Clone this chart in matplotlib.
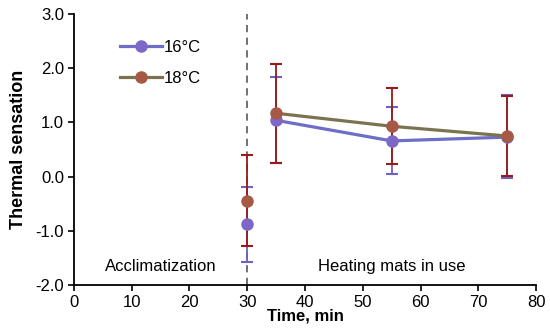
import matplotlib
matplotlib.use("Agg")
import matplotlib.pyplot as plt

plt.rcParams['font.family'] = ['Liberation Sans', 'DejaVu Sans']

time = [30, 35, 55, 75]
s16 = [-0.88, 1.04, 0.66, 0.73]
s16_lo = [-1.57, 0.25, 0.05, -0.03]
s16_hi = [-0.19, 1.84, 1.28, 1.50]
s18 = [-0.44, 1.17, 0.93, 0.75]
s18_lo = [-1.27, 0.26, 0.23, 0.02]
s18_hi = [0.40, 2.07, 1.63, 1.48]

FS = 12

fig = plt.figure(figsize=(5.5, 3.35), dpi=100)
ax = fig.add_axes([0.134, 0.149, 0.841, 0.809])

def err(vals, lo, hi):
    return [[v - l for v, l in zip(vals, lo)], [h - v for v, h in zip(vals, hi)]]

ax.axvline(30, color='#666666', linestyle=(0, (4, 3)), linewidth=1.3, zorder=1)

ax.errorbar(time, s16, yerr=err(s16, s16_lo, s16_hi), fmt='none', ecolor='#7060C0',
            elinewidth=1.3, capsize=4, capthick=1.5, zorder=2)
ax.errorbar(time, s18, yerr=err(s18, s18_lo, s18_hi), fmt='none', ecolor='#9A1A1A',
            elinewidth=1.3, capsize=4, capthick=1.5, zorder=2)

# lines connect only the heating-period points
ax.plot(time[1:], s16[1:], color='#6E6EC8', linewidth=2.3, zorder=3)
ax.plot(time[1:], s18[1:], color='#7B7350', linewidth=2.3, zorder=4)
ax.plot(time, s16, linestyle='none', marker='o', markersize=8,
        markerfacecolor='#7D68C8', markeredgecolor='#7D68C8', zorder=5)
ax.plot(time, s18, linestyle='none', marker='o', markersize=8,
        markerfacecolor='#A65A45', markeredgecolor='#A65A45', zorder=6)

# legend handles
ax.plot([], [], color='#6E6EC8', linewidth=2.3, marker='o', markersize=8,
        markerfacecolor='#7D68C8', markeredgecolor='#7D68C8', label='16°C')
ax.plot([], [], color='#7B7350', linewidth=2.3, marker='o', markersize=8,
        markerfacecolor='#A65A45', markeredgecolor='#A65A45', label='18°C')

ax.set_xlim(0, 80)
ax.set_ylim(-2.0, 3.0)
ax.set_xticks(range(0, 81, 10))
ax.set_yticks([-2, -1, 0, 1, 2, 3])
ax.set_yticklabels(['-2.0', '-1.0', '0.0', '1.0', '2.0', '3.0'])
ax.tick_params(labelsize=FS, direction='out', length=4, width=1.2, colors='black', pad=3)
for s in ['top', 'right']:
    ax.spines[s].set_visible(False)
for s in ['left', 'bottom']:
    ax.spines[s].set_linewidth(1.3)

ax.set_xlabel('Time, min', fontsize=FS, fontweight='bold', labelpad=-1)
ax.set_ylabel('Thermal sensation', fontsize=13, fontweight='bold', labelpad=6)

ax.text(15, -1.66, 'Acclimatization', fontsize=FS, ha='center', va='center')
ax.text(55, -1.66, 'Heating mats in use', fontsize=FS, ha='center', va='center')

leg = ax.legend(loc='upper left', bbox_to_anchor=(0.100, 0.905), frameon=False,
                fontsize=FS, handlelength=2.5, handletextpad=0.15, labelspacing=0.95,
                borderpad=0, borderaxespad=0)

fig.savefig('out.png', dpi=100)
